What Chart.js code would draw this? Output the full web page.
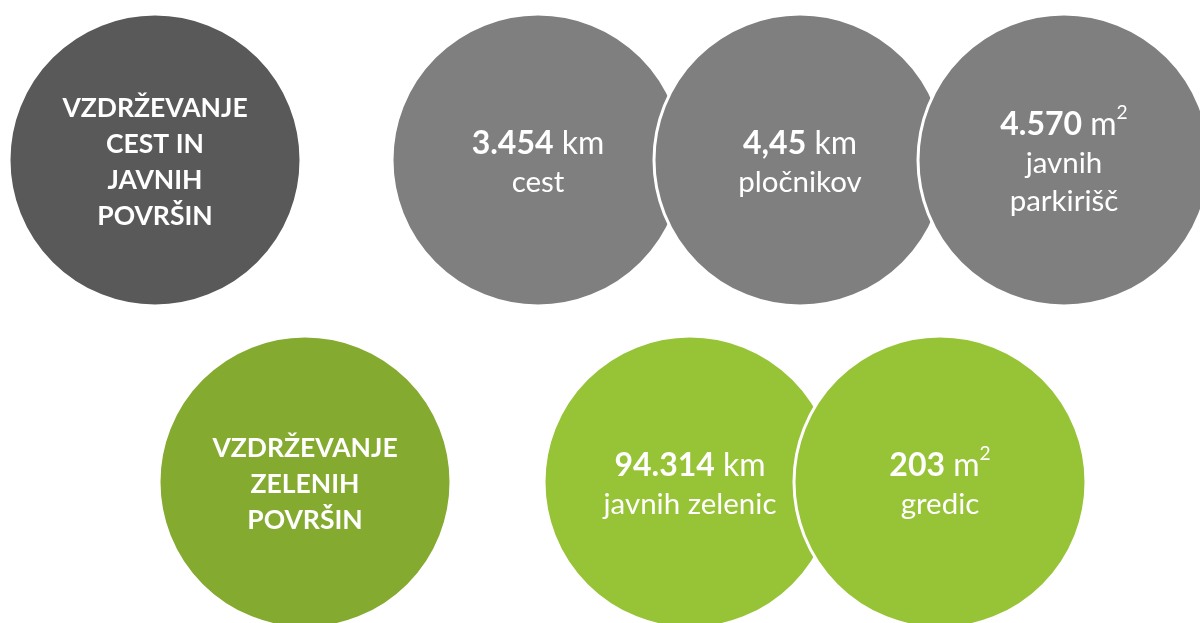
<!DOCTYPE html>
<html>
<head>
<meta charset="utf-8">
<script src="https://cdn.jsdelivr.net/npm/chart.js@4"></script>
<style>
  html, body { margin: 0; padding: 0; background: #fff; }
  canvas { display: block; }
</style>
</head>
<body>
<canvas id="infoChart" width="1200" height="623"></canvas>
<script>
// section headings (one per row)
const headings = [
    ['VZDRŽEVANJE', 'CEST IN', 'JAVNIH', 'POVRŠIN'],
    ['VZDRŽEVANJE', 'ZELENIH', 'POVRŠIN']
];

// roads row
const roadValues = ['3.454', '4,45', '4.570'];
const roadUnits = ['km', 'km', 'm2'];
const roadLabels = [['cest'], ['pločnikov'], ['javnih', 'parkirišč']];

// green areas row
const greenValues = ['94.314', '203'];
const greenUnits = ['km', 'm2'];
const greenLabels = [['javnih zelenic'], ['gredic']];

// layout slots (scale units), kept apart from the data
const headingSlots = [[155, 160], [305, 482]];
const roadSlots = [[538, 160], [800, 160], [1064, 160]];
const greenSlots = [[690, 482], [940, 482]];
const R = 146;

const FONT = 'Lato, "Open Sans", sans-serif';

function toPoints(slots) {
    return slots.map(s => ({ x: s[0], y: s[1], r: R }));
}

// draw a line made of [text, bold, sup] parts, centred on cx
function drawParts(ctx, parts, cx, cy, size) {
    let total = 0;
    const widths = parts.map(p => {
        const fs = p.sup ? size * 0.6 : size;
        ctx.font = (p.bold ? 'bold ' : '') + fs + 'px ' + FONT;
        const w = ctx.measureText(p.text).width;
        total += w;
        return w;
    });
    let x = cx - total / 2;
    parts.forEach((p, i) => {
        const fs = p.sup ? size * 0.6 : size;
        ctx.font = (p.bold ? 'bold ' : '') + fs + 'px ' + FONT;
        ctx.fillText(p.text, x, p.sup ? cy - size * 0.38 : cy);
        x += widths[i];
    });
}

function unitParts(unit) {
    if (unit === 'm2') return [{ text: ' m' }, { text: '2', sup: true }];
    return [{ text: ' ' + unit }];
}

const textPlugin = {
    id: 'circleText',
    afterDatasetsDraw(chart) {
        const ctx = chart.ctx;
        ctx.save();
        ctx.fillStyle = '#ffffff';
        ctx.textAlign = 'left';
        ctx.textBaseline = 'middle';

        // headings
        chart.getDatasetMeta(0).data.forEach((el, i) => {
            const lines = headings[i];
            const step = 36;
            const top = el.y - (lines.length - 1) * step / 2 + 2;
            lines.forEach((ln, j) => {
                drawParts(ctx, [{ text: ln, bold: true }], el.x, top + j * step, 26.5);
            });
        });

        const drawValues = (meta, values, units, labels) => {
            meta.data.forEach((el, i) => {
                const lines = [[{ text: values[i], bold: true }].concat(unitParts(units[i]))]
                    .concat(labels[i].map(t => [{ text: t }]));
                const step = 38;
                const top = el.y - (lines.length - 1) * step / 2 + 3;
                lines.forEach((parts, j) => {
                    drawParts(ctx, parts, el.x, top + j * step, j === 0 ? 32 : 29.5);
                });
            });
        };
        drawValues(chart.getDatasetMeta(1), roadValues, roadUnits, roadLabels);
        drawValues(chart.getDatasetMeta(2), greenValues, greenUnits, greenLabels);
        ctx.restore();
    }
};

function createChart() {
    const ctx = document.getElementById('infoChart').getContext('2d');
    new Chart(ctx, {
        type: 'bubble',
        data: {
            datasets: [
                {
                    label: 'Sections',
                    data: toPoints(headingSlots),
                    backgroundColor: ['#595959', '#84aa30'],
                    borderColor: '#ffffff',
                    borderWidth: 3,
                    clip: false
                },
                {
                    label: 'Ceste',
                    data: toPoints(roadSlots),
                    backgroundColor: '#7f7f7f',
                    borderColor: '#ffffff',
                    borderWidth: 3,
                    clip: false
                },
                {
                    label: 'Zelenice',
                    data: toPoints(greenSlots),
                    backgroundColor: '#97c337',
                    borderColor: '#ffffff',
                    borderWidth: 3,
                    clip: false
                }
            ]
        },
        options: {
            responsive: false,
            animation: false,
            events: [],
            layout: { padding: 0, autoPadding: false },
            plugins: {
                legend: { display: false },
                tooltip: { enabled: false }
            },
            scales: {
                x: { type: 'linear', display: false, min: 0, max: 1200 },
                y: { type: 'linear', display: false, min: 0, max: 623, reverse: true }
            }
        },
        plugins: [textPlugin]
    });
}

window.onload = createChart;
</script>
</body>
</html>
